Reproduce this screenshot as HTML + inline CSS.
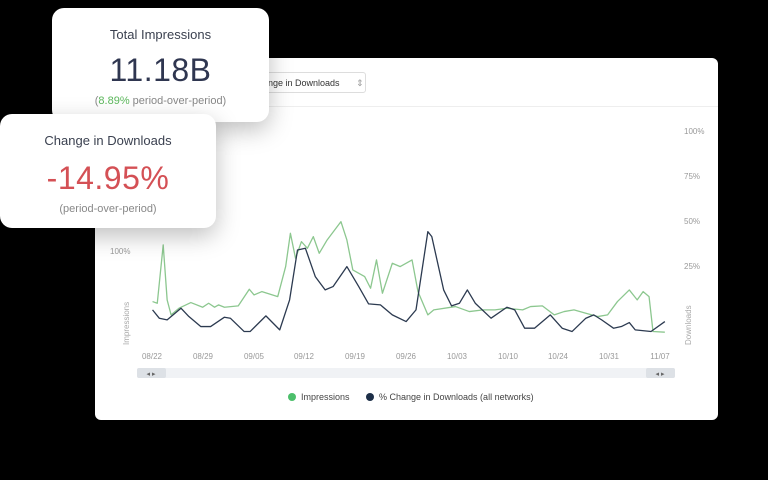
<!DOCTYPE html>
<html><head><meta charset="utf-8"><style>
body{margin:0;width:768px;height:480px;background:#000;position:relative;overflow:hidden;font-family:"Liberation Sans",sans-serif}
.card{position:absolute;background:#fff;border-radius:12px;box-shadow:0 8px 24px rgba(0,0,0,.25);text-align:center}
.t{color:#3b4150;font-size:13px}
.big{font-size:32px;color:#2f3650;letter-spacing:.5px}
.s{font-size:11px;color:#888}
</style></head><body>
<div style="position:absolute;left:95px;top:58px;width:623px;height:362px;background:#fff;border-radius:6px"></div>
<div style="position:absolute;left:95px;top:106px;width:623px;height:1px;background:#eee"></div>
<div style="position:absolute;left:256px;top:72px;width:110px;height:21px;border:1px solid #ddd;border-radius:3px;font-size:9px;color:#333;line-height:21px;padding-left:6px;box-sizing:border-box">ange in Downloads <span style="color:#999;margin-left:14px">⇕</span></div>
<svg style="position:absolute;left:0;top:0" width="768" height="480">
<g font-size="8" fill="#999" font-family="Liberation Sans">
<text x="110" y="254">100%</text>
<text x="684" y="134">100%</text><text x="684" y="179">75%</text><text x="684" y="224">50%</text><text x="684" y="269">25%</text>
<g text-anchor="middle"><text x="152" y="359">08/22</text><text x="203" y="359">08/29</text><text x="254" y="359">09/05</text><text x="304" y="359">09/12</text><text x="355" y="359">09/19</text><text x="406" y="359">09/26</text><text x="457" y="359">10/03</text><text x="508" y="359">10/10</text><text x="558" y="359">10/24</text><text x="609" y="359">10/31</text><text x="660" y="359">11/07</text></g>
<text transform="translate(129,345) rotate(-90)" fill="#aaa">Impressions</text>
<text transform="translate(691,345) rotate(-90)" fill="#aaa">Downloads</text>
</g>
<rect x="137" y="368" width="538" height="10" fill="#f0f2f5" rx="2"/>
<rect x="137" y="368" width="29" height="10" fill="#dde1e6" rx="2"/>
<rect x="646" y="368" width="29" height="10" fill="#dde1e6" rx="2"/>
<text x="151" y="376" font-size="7" fill="#666" text-anchor="middle">◂ ▸</text>
<text x="660" y="376" font-size="7" fill="#666" text-anchor="middle">◂ ▸</text>
<circle cx="292" cy="397" r="4" fill="#4cbf6b"/><text x="301" y="400" font-size="9" fill="#444" font-family="Liberation Sans">Impressions</text>
<circle cx="370" cy="397" r="4" fill="#1d2f48"/><text x="379" y="400" font-size="9" fill="#444" font-family="Liberation Sans">% Change in Downloads (all networks)</text>
<g transform="translate(100,200) scale(0.395,0.333)" fill="none" stroke-linejoin="round">
<polyline vector-effect="non-scaling-stroke" stroke="#8cc78f" stroke-width="1.3" points="133,305 145,310 160,135 170,300 180,345 200,325 230,308 260,322 275,310 290,322 300,315 315,322 350,318 378,268 390,285 410,275 450,290 470,200 482,100 495,175 510,125 525,145 540,110 555,160 575,120 610,65 625,120 640,210 670,230 685,265 700,180 715,280 740,190 760,200 790,180 805,275 830,345 845,330 900,320 935,335 970,330 1000,330 1030,325 1070,330 1090,320 1120,318 1150,345 1175,335 1200,330 1230,340 1260,350 1285,345 1310,305 1340,270 1360,300 1375,275 1390,290 1400,395 1430,397"/>
<polyline vector-effect="non-scaling-stroke" stroke="#2c3a50" stroke-width="1.3" points="133,330 150,355 170,360 205,325 225,350 255,380 280,380 315,352 330,355 365,395 380,395 420,348 455,390 480,300 500,150 520,145 545,230 570,270 590,260 625,200 655,260 680,312 710,315 740,345 775,365 800,330 830,95 840,110 870,270 890,318 910,310 930,270 950,310 990,355 1030,322 1050,330 1075,385 1100,385 1140,345 1170,385 1195,395 1230,355 1250,345 1270,360 1300,385 1320,380 1340,368 1355,390 1395,395 1430,365"/>
</g>
</svg>
<div class="card" style="left:52px;top:8px;width:217px;height:114px">
<div class="t" style="margin-top:19px">Total Impressions</div>
<div class="big" style="margin-top:10px">11.18B</div>
<div class="s" style="margin-top:6px">(<span style="color:#5cb85c">8.89%</span> period-over-period)</div>
</div>
<div class="card" style="left:0;top:114px;width:216px;height:114px">
<div class="t" style="margin-top:19px">Change in Downloads</div>
<div class="big" style="margin-top:12px;color:#d45055">-14.95%</div>
<div class="s" style="margin-top:6px">(period-over-period)</div>
</div>
</body></html>
